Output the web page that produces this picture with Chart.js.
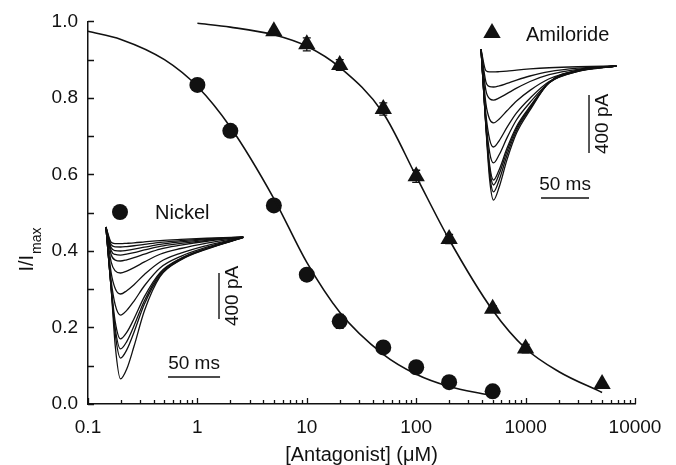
<!DOCTYPE html>
<html>
<head>
<meta charset="utf-8">
<script src="https://cdn.jsdelivr.net/npm/chart.js@4.4.0/dist/chart.umd.min.js"></script>
<style>
  html, body { margin: 0; padding: 0; background: #fff; }
  #wrap { position: relative; width: 676px; height: 465px; }
  #wrap canvas { position: absolute; }
</style>
</head>
<body>
<div id="wrap">
  <canvas id="main" width="676" height="465" style="left:0;top:0"></canvas>
  <canvas id="niInset" width="160" height="180" style="left:95px;top:215px"></canvas>
  <canvas id="amInset" width="160" height="175" style="left:470px;top:40px"></canvas>
</div>
<script>
// dose-response points
const nickelConc = [1, 2, 5, 10, 20, 50, 100, 200, 500];
const nickelI = [0.834, 0.714, 0.519, 0.338, 0.216, 0.148, 0.096, 0.057, 0.033];
const nickelErr = [0.012, 0.012, 0.012, 0.012, 0.018, 0.01, 0.01, 0.01, 0.01];
const amilConc = [5, 10, 20, 50, 100, 200, 500, 1000, 5000];
const amilI = [0.974, 0.940, 0.886, 0.771, 0.595, 0.431, 0.249, 0.145, 0.052];
const amilErr = [0.006, 0.017, 0.014, 0.016, 0.016, 0.012, 0.008, 0.011, 0.005];

// fitted curves
const nickelFitConc = [0.1, 0.2, 0.5, 1, 2, 5, 10, 20, 50, 100, 200, 450];
const nickelFitI = [0.974, 0.953, 0.90, 0.83, 0.724, 0.537, 0.37, 0.24, 0.13, 0.078, 0.046, 0.024];
const amilFitConc = [1, 2, 5, 10, 20, 50, 100, 200, 500, 1000, 2000, 5000];
const amilFitI = [0.995, 0.985, 0.965, 0.935, 0.88, 0.76, 0.595, 0.43, 0.245, 0.145, 0.085, 0.03];

const xTickLabels = ['0.1', '1', '10', '100', '1000', '10000'];
const yTickLabels = ['0.0', '0.2', '0.4', '0.6', '0.8', '1.0'];

// inset current traces (ms, pA relative to baseline)
const niTimes = [-2, 3, 7, 12, 18, 25, 35, 50, 70, 95, 130];
const niTraces = [
  [87, -45, -57, -58, -55, -51, -43, -31, -21, -11, 0],
  [87, -67, -86, -87, -83, -76, -64, -46, -32, -17, 0],
  [87, -92, -119, -122, -116, -106, -89, -64, -43, -23, -1],
  [87, -117, -152, -157, -149, -136, -113, -81, -55, -29, -1],
  [87, -152, -201, -209, -198, -180, -149, -105, -71, -37, -1],
  [87, -216, -295, -313, -296, -267, -217, -150, -100, -53, -1],
  [87, -309, -450, -496, -467, -415, -326, -217, -140, -74, -1],
  [87, -379, -593, -679, -638, -557, -424, -269, -168, -89, -2],
  [87, -429, -741, -887, -830, -711, -519, -310, -185, -98, -3],
  [87, -441, -798, -974, -910, -772, -554, -320, -190, -100, -4],
  [87, -448, -847, -1053, -982, -828, -583, -335, -195, -102, -4],
  [87, -445, -951, -1235, -1149, -951, -642, -345, -200, -105, -6]
];
const amTimes = [-1, 4, 8, 12, 18, 26, 36, 50, 70, 100, 140];
const amTraces = [
  [115, -32, -41, -41, -39, -35, -28, -20, -12, -5, 0],
  [115, -108, -142, -145, -137, -120, -97, -69, -39, -15, 0],
  [115, -167, -226, -235, -220, -191, -153, -107, -60, -23, 0],
  [115, -256, -368, -393, -365, -309, -242, -168, -88, -32, 0],
  [115, -329, -508, -559, -514, -424, -324, -222, -107, -37, 0],
  [115, -366, -597, -669, -611, -496, -371, -252, -114, -37, 0],
  [115, -395, -686, -787, -714, -568, -417, -279, -116, -34, 0],
  [115, -401, -712, -821, -744, -589, -429, -287, -115, -33, 0],
  [115, -409, -746, -869, -785, -616, -445, -295, -114, -30, 0],
  [115, -416, -786, -925, -833, -648, -463, -305, -112, -28, 0]
];

const INK = '#111';
const FONT = '"Liberation Sans", Arial, sans-serif';

function pts(xs, ys) {
  return xs.map((x, i) => ({ x: x, y: ys[i] }));
}

function isDecade(v) {
  const e = Math.log10(v);
  return Math.abs(e - Math.round(e)) < 1e-6;
}

const decor = {
  id: 'decor',
  beforeDatasetsDraw(chart) {
    const ctx = chart.ctx;
    const ys = chart.scales.y;
    ctx.save();
    ctx.strokeStyle = INK;
    ctx.lineWidth = 1.3;
    chart.data.datasets.forEach((ds, i) => {
      if (!ds.errorBars) return;
      chart.getDatasetMeta(i).data.forEach((pt, j) => {
        const v = ds.data[j].y, e = ds.errorBars[j];
        const y1 = ys.getPixelForValue(v - e), y2 = ys.getPixelForValue(v + e);
        ctx.beginPath();
        ctx.moveTo(pt.x, y1); ctx.lineTo(pt.x, y2);
        ctx.moveTo(pt.x - 4, y1); ctx.lineTo(pt.x + 4, y1);
        ctx.moveTo(pt.x - 4, y2); ctx.lineTo(pt.x + 4, y2);
        ctx.stroke();
      });
    });
    ctx.restore();
  },
  afterDraw(chart) {
    const ctx = chart.ctx;
    const xs = chart.scales.x, ys = chart.scales.y;
    ctx.save();
    ctx.strokeStyle = INK;
    ctx.lineWidth = 1.3;
    // inward tick marks
    ctx.beginPath();
    xs.ticks.forEach(t => {
      const px = Math.round(xs.getPixelForValue(t.value)) + 0.5;
      const len = isDecade(t.value) ? 6 : 4;
      ctx.moveTo(px, ys.bottom); ctx.lineTo(px, ys.bottom - len);
    });
    ys.ticks.forEach(t => {
      const py = Math.round(ys.getPixelForValue(t.value)) + 0.5;
      ctx.moveTo(xs.left, py); ctx.lineTo(xs.left + 6, py);
    });
    ctx.stroke();

    // y title with subscript
    ctx.fillStyle = INK;
    ctx.translate(33, 250);
    ctx.rotate(-Math.PI / 2);
    ctx.textBaseline = 'alphabetic';
    ctx.font = '20px ' + FONT;
    const w1 = ctx.measureText('I/I').width;
    ctx.font = '14px ' + FONT;
    const w2 = ctx.measureText('max').width;
    ctx.font = '20px ' + FONT;
    ctx.fillText('I/I', -(w1 + w2) / 2, 0);
    ctx.font = '14px ' + FONT;
    ctx.fillText('max', -(w1 + w2) / 2 + w1 + 1, 8);
    ctx.setTransform(1, 0, 0, 1, 0, 0);

    // series labels
    ctx.font = '20px ' + FONT;
    ctx.textBaseline = 'middle';
    ctx.textAlign = 'left';
    ctx.beginPath();
    ctx.arc(120, 212, 8, 0, Math.PI * 2);
    ctx.fill();
    ctx.fillText('Nickel', 155, 213);
    ctx.beginPath();
    ctx.moveTo(492, 23); ctx.lineTo(500.7, 38); ctx.lineTo(483.3, 38);
    ctx.closePath();
    ctx.fill();
    ctx.fillText('Amiloride', 526, 35);
    ctx.restore();
  }
};

new Chart(document.getElementById('main'), {
  type: 'scatter',
  data: {
    datasets: [
      {
        label: 'Nickel fit',
        data: pts(nickelFitConc, nickelFitI),
        showLine: true,
        borderColor: INK,
        borderWidth: 1.6,
        pointRadius: 0,
        cubicInterpolationMode: 'monotone',
        clip: false
      },
      {
        label: 'Amiloride fit',
        data: pts(amilFitConc, amilFitI),
        showLine: true,
        borderColor: INK,
        borderWidth: 1.6,
        pointRadius: 0,
        cubicInterpolationMode: 'monotone',
        clip: false
      },
      {
        label: 'Nickel',
        data: pts(nickelConc, nickelI),
        errorBars: nickelErr,
        pointStyle: 'circle',
        pointRadius: 8,
        backgroundColor: INK,
        borderColor: INK,
        borderWidth: 0,
        clip: false
      },
      {
        label: 'Amiloride',
        data: pts(amilConc, amilI),
        errorBars: amilErr,
        pointStyle: 'triangle',
        pointRadius: 10,
        backgroundColor: INK,
        borderColor: INK,
        borderWidth: 0,
        clip: false
      }
    ]
  },
  options: {
    responsive: false,
    animation: false,
    events: [],
    layout: { padding: { left: 0, right: 41, top: 19, bottom: 0 } },
    plugins: { legend: { display: false }, tooltip: { enabled: false } },
    scales: {
      x: {
        type: 'logarithmic',
        min: 0.1,
        max: 10000,
        afterBuildTicks: (scale) => {
          const t = [];
          for (let e = -1; e <= 4; e++) {
            for (let m = 1; m <= 9; m++) {
              const v = m * Math.pow(10, e);
              if (v <= 10000.0001) t.push({ value: v });
            }
          }
          scale.ticks = t;
        },
        afterFit: (scale) => { scale.height = 61; },
        grid: { display: false, drawTicks: false },
        border: { display: true, color: INK, width: 1.5 },
        ticks: {
          autoSkip: false,
          maxRotation: 0,
          padding: 12,
          color: INK,
          font: { family: FONT, size: 19 },
          callback: (v) => isDecade(v) ? xTickLabels[Math.round(Math.log10(v)) + 1] : ''
        },
        title: {
          display: true,
          text: '[Antagonist] (\u03bcM)',
          color: INK,
          font: { family: FONT, size: 20, lineHeight: 1.0 },
          padding: { top: 0, bottom: 0 }
        }
      },
      y: {
        min: 0,
        max: 1,
        afterFit: (scale) => { scale.width = 88; },
        grid: { display: false, drawTicks: false },
        border: { display: true, color: INK, width: 1.5 },
        ticks: {
          stepSize: 0.1,
          autoSkip: false,
          padding: 10,
          color: INK,
          font: { family: FONT, size: 19 },
          callback: (v, i) => i % 2 === 0 ? yTickLabels[i / 2] : ''
        }
      }
    }
  },
  plugins: [decor]
});

// inset with current traces and scale bars
function makeInset(id, times, traces, xr, yr, bars) {
  const datasets = traces.map(tr => ({
    data: pts(times, tr),
    borderColor: INK,
    borderWidth: 1.3,
    pointRadius: 0,
    cubicInterpolationMode: 'monotone',
    clip: false
  }));
  datasets.push({
    data: [{ x: bars.t0, y: bars.hy }, { x: bars.t0 + 50, y: bars.hy }],
    borderColor: INK, borderWidth: 1.4, pointRadius: 0
  });
  datasets.push({
    data: [{ x: bars.vx, y: bars.v0 }, { x: bars.vx, y: bars.v0 - 400 }],
    borderColor: INK, borderWidth: 1.4, pointRadius: 0
  });
  const labels = {
    id: 'barLabels',
    afterDraw(chart) {
      const ctx = chart.ctx, xs = chart.scales.x, ys = chart.scales.y;
      ctx.save();
      ctx.fillStyle = INK;
      ctx.font = '19px ' + FONT;
      ctx.textAlign = 'center';
      ctx.textBaseline = 'middle';
      ctx.fillText('50 ms', xs.getPixelForValue(bars.t0 + 25), ys.getPixelForValue(bars.hy) - 13);
      ctx.translate(xs.getPixelForValue(bars.vx) + 14, ys.getPixelForValue(bars.v0 - 200));
      ctx.rotate(-Math.PI / 2);
      ctx.fillText('400 pA', 0, 0);
      ctx.restore();
    }
  };
  new Chart(document.getElementById(id), {
    type: 'line',
    data: { datasets: datasets },
    options: {
      responsive: false,
      animation: false,
      events: [],
      layout: { padding: 0 },
      plugins: { legend: { display: false }, tooltip: { enabled: false } },
      scales: {
        x: { type: 'linear', min: xr[0], max: xr[1], display: false },
        y: { type: 'linear', min: yr[0], max: yr[1], display: false }
      }
    },
    plugins: [labels]
  });
}

makeInset('niInset', niTimes, niTraces, [-12.5, 141.3], [-1374.6, 191.4],
  { t0: 57.7, hy: -1218, vx: 106.7, v0: -313 });
makeInset('amInset', amTimes, amTraces, [-12.5, 154.2], [-1028, 179.4],
  { t0: 61.5, hy: -911, vx: 111.5, v0: -200 });
</script>
</body>
</html>
